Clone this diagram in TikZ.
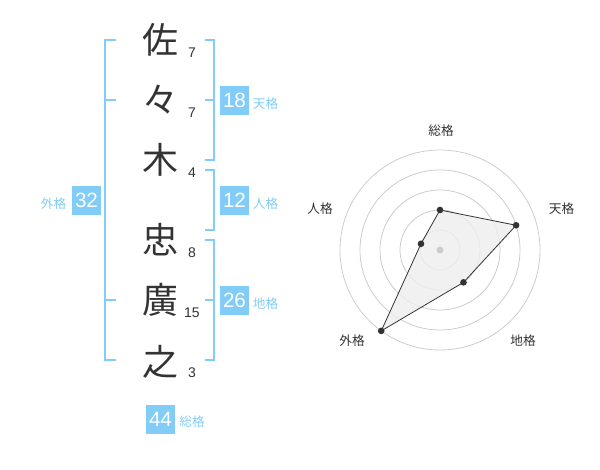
\documentclass[tikz,border=0pt]{standalone}
\usepackage{fontspec}
\setmainfont{Liberation Sans}
\newfontfamily\jpfont{Noto Sans CJK JP}
\definecolor{kakublue}{HTML}{82CCF8}
\definecolor{inkgray}{HTML}{333333}
\definecolor{ringgray}{HTML}{CCCCCC}
\definecolor{areagray}{HTML}{EEEEEE}
\tikzset{
  kanji/.style={inner sep=0pt, text=inkgray, font=\jpfont\fontsize{27}{27}\selectfont},
  strokes/.style={inner sep=0.75pt, text=inkgray, font=\fontsize{10.5}{10.5}\selectfont},
  scorebox/.style={fill=kakublue, text=white, minimum size=21.75pt, inner sep=0pt, font=\fontsize{15.5}{15.5}\selectfont},
  kakulabel/.style={inner sep=0.75pt, text=kakublue, font=\jpfont\fontsize{9.5}{9.5}\selectfont},
  bracket/.style={draw=kakublue, line width=1.2pt},
  axislabel/.style={inner sep=0.75pt, text=inkgray, font=\jpfont\fontsize{9.5}{9.5}\selectfont},
  ring/.style={draw=ringgray, line width=0.6pt},
  dot/.style={circle, fill=inkgray, inner sep=0pt, minimum size=5pt}
}
\begin{document}
\begin{tikzpicture}[x=0.75pt,y=0.75pt,yscale=-1,xscale=1]
\useasboundingbox (0,0) rectangle (600,470);

% Name characters
\node[kanji] (k1) at (160,40) {佐};
\node[kanji] (k2) at (160,100) {々};
\node[kanji] (k3) at (160,160) {木};
\node[kanji] (k4) at (160,240) {忠};
\node[kanji] (k5) at (160,300) {廣};
\node[kanji] (k6) at (160,362) {之};
% Stroke counts
\node[strokes] (s1) at (192,53) {7};
\node[strokes] (s2) at (192,113) {7};
\node[strokes] (s3) at (192,173) {4};
\node[strokes] (s4) at (192,253) {8};
\node[strokes] (s5) at (192,313) {15};
\node[strokes] (s6) at (192,373) {3};

% Brackets
\draw[bracket] (116,40) -- (105,40) -- (105,360) -- (116,360);
\draw[bracket] (105,100) -- (116,100);
\draw[bracket] (105,300) -- (116,300);
\draw[bracket] (205,40) -- (214,40) -- (214,160) -- (205,160);
\draw[bracket] (205,100) -- (214,100);
\draw[bracket] (205,170) -- (214,170) -- (214,230) -- (205,230);
\draw[bracket] (205,240) -- (214,240) -- (214,360) -- (205,360);
\draw[bracket] (205,300) -- (214,300);

% Scores
\node[scorebox] (ten) at (234.5,100.5) {18};
\node[kakulabel] (tenl) at (265.5,103.5) {天格};
\node[scorebox] (jin) at (234.5,200.5) {12};
\node[kakulabel] (jinl) at (265.5,203.5) {人格};
\node[scorebox] (chi) at (234.5,300.5) {26};
\node[kakulabel] (chil) at (265.5,303.5) {地格};
\node[scorebox] (gai) at (86.5,200.5) {32};
\node[kakulabel] (gail) at (53.5,203.5) {外格};
\node[scorebox] (sou) at (160.5,419) {44};
\node[kakulabel] (soul) at (192,422) {総格};

% Radar chart
\coordinate (radar) at (440,250);
\foreach \r in {20,40,60,80,100}
  \draw[ring] (radar) circle (\r);
\coordinate (psou) at ([shift={(-90:40)}]radar);
\coordinate (pten) at ([shift={(-18:80)}]radar);
\coordinate (pchi) at ([shift={(54:40)}]radar);
\coordinate (pgai) at ([shift={(126:100)}]radar);
\coordinate (pjin) at ([shift={(198:20)}]radar);
\draw[inkgray, line width=0.6pt, fill=areagray, fill opacity=0.8]
  (psou) -- (pten) -- (pchi) -- (pgai) -- (pjin) -- cycle;
\fill[ringgray] (radar) circle (3.5);
\foreach \p in {psou,pten,pchi,pgai,pjin}
  \node[dot] at (\p) {};
\node[axislabel] (asou) at (441,130.5) {総格};
\node[axislabel] (aten) at (561.5,208.5) {天格};
\node[axislabel] (achi) at (523,341) {地格};
\node[axislabel] (agai) at (352,341) {外格};
\node[axislabel] (ajin) at (320,208.5) {人格};

\end{tikzpicture}
\end{document}
